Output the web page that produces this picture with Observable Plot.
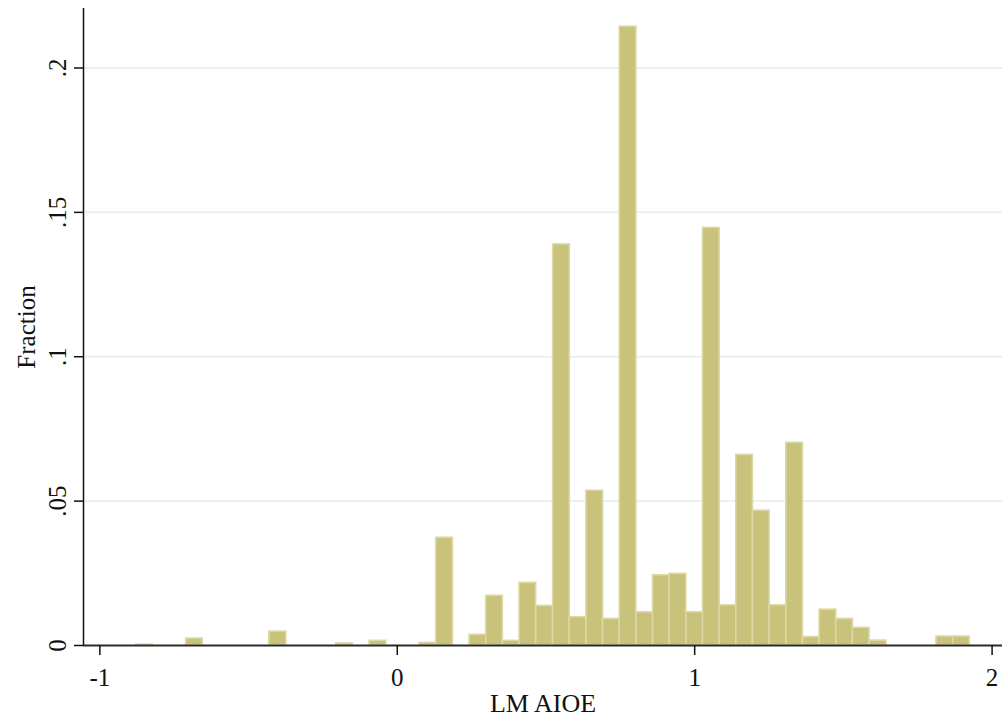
<!DOCTYPE html>
<html>
<head>
<meta charset="utf-8">
<script src="https://cdn.jsdelivr.net/npm/d3@7"></script>
<script src="https://cdn.jsdelivr.net/npm/@observablehq/plot@0.6"></script>
<style>
  html, body { margin: 0; padding: 0; background: #ffffff; }
  #chart svg { display: block; }
  #chart svg text { font-family: "Times New Roman", "Liberation Serif", Times, serif; }
</style>
</head>
<body>
<div id="chart"></div>
<script>
// Bin left edges (LM AIOE), 50 bins
const binEdges = [-0.878, -0.822, -0.766, -0.710, -0.654, -0.598, -0.542, -0.486, -0.430, -0.373,
  -0.317, -0.261, -0.205, -0.149, -0.093, -0.037, 0.019, 0.075, 0.131, 0.187,
  0.243, 0.299, 0.355, 0.411, 0.467, 0.524, 0.580, 0.636, 0.692, 0.748,
  0.804, 0.860, 0.916, 0.972, 1.028, 1.084, 1.140, 1.196, 1.252, 1.308,
  1.364, 1.420, 1.476, 1.532, 1.588, 1.645, 1.701, 1.757, 1.813, 1.869, 1.925];
// Fraction in each bin
const fractions = [0.0003, 0, 0, 0.0024, 0, 0, 0, 0, 0.0048, 0,
  0, 0, 0.0007, 0, 0.0016, 0, 0, 0.0009, 0.0373, 0,
  0.0037, 0.0172, 0.0016, 0.0217, 0.0137, 0.1389, 0.0098, 0.0536, 0.0092, 0.2143,
  0.0115, 0.0243, 0.0248, 0.0115, 0.1446, 0.0139, 0.0660, 0.0467, 0.0139, 0.0702,
  0.0029, 0.0124, 0.0092, 0.0061, 0.0017, 0, 0, 0, 0.0031, 0.0031];
const xTicks = [-1, 0, 1, 2];
const yTicks = [0, 0.05, 0.1, 0.15, 0.2];
const yTickLabels = ["0", ".05", ".1", ".15", ".2"];
const gridValues = [0.05, 0.1, 0.15, 0.2];

const bars = fractions
  .map((f, i) => ({x1: binEdges[i], x2: binEdges[i + 1], y: f}))
  .filter(d => d.y > 0);

const xDomain = [-1.055, 2.035];
const yDomain = [0, 0.2206];

const chart = Plot.plot({
  width: 1002,
  height: 719,
  marginLeft: 83,
  marginRight: 0,
  marginTop: 8,
  marginBottom: 74,
  style: {background: "#ffffff"},
  x: {domain: xDomain, axis: null},
  y: {domain: yDomain, axis: null},
  marks: [
    Plot.ruleY(gridValues, {stroke: "#eaf0f3", strokeWidth: 2}),
    Plot.rectY(bars, {x1: "x1", x2: "x2", y: "y", fill: "#c9c27b", stroke: "#dcd8a5", strokeWidth: 1.6}),
    Plot.ruleY([0], {stroke: "#2a2a2a", strokeWidth: 2}),
    Plot.ruleX([xDomain[0]], {stroke: "#111111", strokeWidth: 1.5}),
    // x ticks
    Plot.axisX({ticks: xTicks, tickSize: 10, tickFormat: () => "", label: null, stroke: "#111", strokeWidth: 1.5}),
    Plot.text(xTicks, {x: d => d, text: d => String(d), frameAnchor: "bottom", dy: 32, lineAnchor: "middle", fontSize: 25, fill: "#111"}),
    // y ticks
    Plot.axisY({ticks: yTicks, tickSize: 9, tickFormat: () => "", label: null, stroke: "#111", strokeWidth: 1.5}),
    Plot.text(yTicks, {y: d => d, text: (d, i) => yTickLabels[i], frameAnchor: "left", dx: -26, rotate: -90, lineAnchor: "middle", textAnchor: "middle", fontSize: 25, fill: "#111"}),
    // axis titles
    Plot.text(["Fraction"], {frameAnchor: "left", dx: -57, rotate: -90, lineAnchor: "middle", textAnchor: "middle", fontSize: 25, fill: "#111"}),
    Plot.text(["LM AIOE"], {frameAnchor: "bottom", dy: 58, lineAnchor: "middle", textAnchor: "middle", fontSize: 26, fill: "#111"})
  ]
});
document.getElementById("chart").appendChild(chart);
</script>
</body>
</html>
